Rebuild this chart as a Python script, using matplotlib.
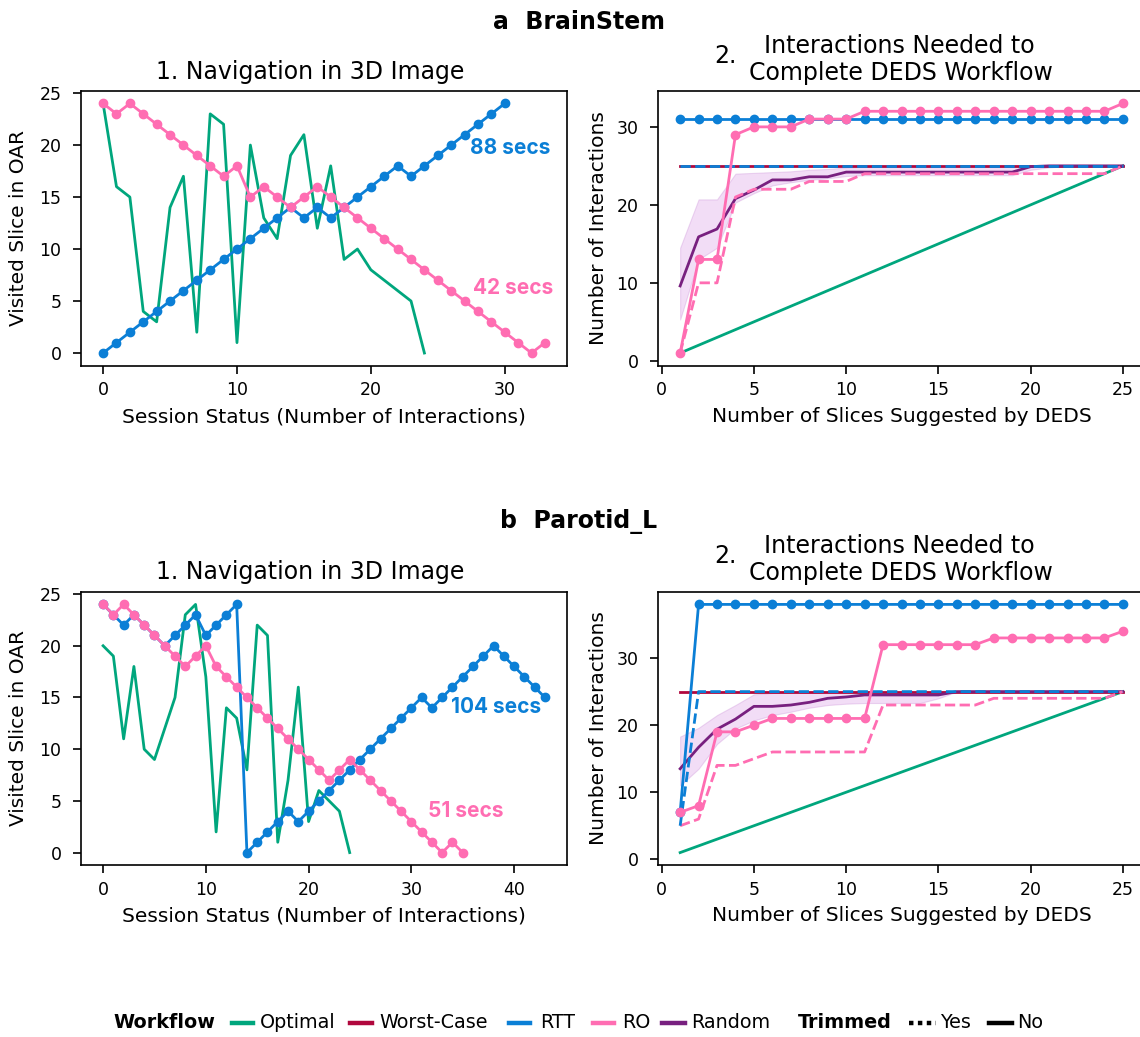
import matplotlib
matplotlib.use("Agg")
import matplotlib.pyplot as plt
from matplotlib.lines import Line2D

# ---------------- data ----------------
nav_a_optimal = [24, 16, 15, 4, 3, 14, 17, 2, 23, 22, 1, 20, 13, 11, 19, 21, 12, 18, 9, 10, 8, 7, 6, 5, 0]
nav_a_rtt = [0, 1, 2, 3, 4, 5, 6, 7, 8, 9, 10, 11, 12, 13, 14, 13, 14, 13, 14, 15, 16, 17, 18, 17, 18,
             19, 20, 21, 22, 23, 24]
nav_a_ro = [24, 23, 24, 23, 22, 21, 20, 19, 18, 17, 18, 15, 16, 15, 14, 15, 16, 15, 14, 13, 12, 11, 10,
            9, 8, 7, 6, 5, 4, 3, 2, 1, 0, 1]

nav_b_optimal = [20, 19, 11, 18, 10, 9, 12, 15, 23, 24, 17, 2, 14, 13, 8, 22, 21, 1, 7, 16, 3, 6, 5, 4, 0]
nav_b_rtt = [24, 23, 22, 23, 22, 21, 20, 21, 22, 23, 21, 22, 23, 24, 0, 1, 2, 3, 4, 3, 4, 5, 6, 7, 8, 9,
             10, 11, 12, 13, 14, 15, 14, 15, 16, 17, 18, 19, 20, 19, 18, 17, 16, 15]
nav_b_ro = [24, 23, 24, 23, 22, 21, 20, 19, 18, 19, 20, 18, 17, 16, 15, 14, 13, 12, 11, 10, 9, 8, 7, 8,
            9, 8, 7, 6, 5, 4, 3, 2, 1, 0, 1, 0]

slices = [1, 2, 3, 4, 5, 6, 7, 8, 9, 10, 11, 12, 13, 14, 15, 16, 17, 18, 19, 20, 21, 22, 23, 24, 25]
optimal = [1, 2, 3, 4, 5, 6, 7, 8, 9, 10, 11, 12, 13, 14, 15, 16, 17, 18, 19, 20, 21, 22, 23, 24, 25]
worst = [25, 25, 25, 25, 25, 25, 25, 25, 25, 25, 25, 25, 25, 25, 25, 25, 25, 25, 25, 25, 25, 25, 25, 25, 25]

a_rtt = [31, 31, 31, 31, 31, 31, 31, 31, 31, 31, 31, 31, 31, 31, 31, 31, 31, 31, 31, 31, 31, 31, 31, 31, 31]
a_rtt_trim = [25, 25, 25, 25, 25, 25, 25, 25, 25, 25, 25, 25, 25, 25, 25, 25, 25, 25, 25, 25, 25, 25, 25, 25, 25]
a_ro = [1, 13, 13, 29, 30, 30, 30, 31, 31, 31, 32, 32, 32, 32, 32, 32, 32, 32, 32, 32, 32, 32, 32, 32, 33]
a_ro_trim = [1, 10, 10, 21, 22, 22, 22, 23, 23, 23, 24, 24, 24, 24, 24, 24, 24, 24, 24, 24, 24, 24, 24, 24, 25]
a_rand = [9.6, 15.9, 16.9, 20.8, 21.9, 23.2, 23.2, 23.6, 23.6, 24.2, 24.2, 24.2, 24.2, 24.2, 24.2, 24.2,
          24.2, 24.2, 24.2, 24.9, 25, 25, 25, 25, 25]
a_rand_lo = [5.3, 13.0, 14.5, 20.3, 21.5, 22.5, 22.9, 23.2, 23.4, 23.7, 23.8, 23.8, 23.8, 23.8, 23.8, 23.8,
             23.8, 23.8, 23.8, 24.5, 24.8, 25, 25, 25, 25]
a_rand_hi = [14.5, 20.7, 20.7, 24.0, 24.1, 24.2, 24.3, 24.5, 24.6, 24.8, 24.9, 24.9, 24.9, 24.9, 24.9, 24.9,
             24.9, 24.9, 24.9, 25, 25, 25, 25, 25, 25]

b_rtt = [7, 38, 38, 38, 38, 38, 38, 38, 38, 38, 38, 38, 38, 38, 38, 38, 38, 38, 38, 38, 38, 38, 38, 38, 38]
b_rtt_trim = [5, 25, 25, 25, 25, 25, 25, 25, 25, 25, 25, 25, 25, 25, 25, 25, 25, 25, 25, 25, 25, 25, 25, 25, 25]
b_ro = [7, 8, 19, 19, 20, 21, 21, 21, 21, 21, 21, 32, 32, 32, 32, 32, 32, 33, 33, 33, 33, 33, 33, 33, 34]
b_ro_trim = [5, 6, 14, 14, 15, 16, 16, 16, 16, 16, 16, 23, 23, 23, 23, 23, 23, 24, 24, 24, 24, 24, 24, 24, 25]
b_rand = [13.5, 16.7, 19.4, 20.9, 22.8, 22.8, 23.0, 23.4, 24.0, 24.2, 24.5, 24.5, 24.5, 24.5, 24.5, 25,
          25, 25, 25, 25, 25, 25, 25, 25, 25]
b_rand_lo = [11.0, 13.5, 17.2, 19.5, 20.7, 21.5, 22.0, 22.6, 23.0, 23.2, 23.3, 23.3, 23.3, 23.3, 24.0, 25,
             25, 25, 25, 25, 25, 25, 25, 25, 25]
b_rand_hi = [18.3, 19.6, 21.5, 23.0, 24.6, 24.8, 24.9, 24.9, 25, 25, 25, 25, 25, 25, 25, 25,
             25, 25, 25, 25, 25, 25, 25, 25, 25]

workflows = ["Optimal", "Worst-Case", "RTT", "RO", "Random"]
colors = {"Optimal": "#00a67d", "Worst-Case": "#b0073d", "RTT": "#0b7fd6",
          "RO": "#ff6db2", "Random": "#78207f"}

# ---------------- figure ----------------
plt.rcParams["font.family"] = "DejaVu Sans"
plt.rcParams["font.size"] = 12
ANN = ["Inter", "DejaVu Sans"]

W, H = 1140, 1037
fig = plt.figure(figsize=(W / 100, H / 100), dpi=100)


def ax_at(left, top, right, bottom):
    return fig.add_axes([left / W, 1 - bottom / H, (right - left) / W, (bottom - top) / H])


LW = 2.0
MS = 6.0


def style(ax, ylab_x):
    for s in ax.spines.values():
        s.set_linewidth(1.2)
    ax.tick_params(axis="both", labelsize=12.5, width=1.2, length=6)
    ax.tick_params(axis="x", pad=5.5)
    ax.tick_params(axis="y", pad=8)
    ax.xaxis.set_label_coords(0.5, -0.152)
    ax.yaxis.set_label_coords(ylab_x, 0.5)


def nav_panel(ax, opt, rtt, ro, xticks):
    ax.plot(range(len(opt)), opt, color=colors["Optimal"], lw=LW)
    ax.plot(range(len(rtt)), rtt, color=colors["RTT"], lw=LW, marker="o", ms=MS)
    ax.plot(range(len(ro)), ro, color=colors["RO"], lw=LW, marker="o", ms=MS)
    ax.set_xticks(xticks)
    ax.set_yticks([0, 5, 10, 15, 20, 25])
    ax.set_xlabel("Session Status (Number of Interactions)", fontsize=14.5, va="top")
    ax.set_ylabel("Visited Slice in OAR", fontsize=14.5)
    style(ax, -0.109)


def inter_panel(ax, rtt, rtt_t, ro, ro_t, rnd, lo, hi):
    ax.plot(slices, optimal, color=colors["Optimal"], lw=LW)
    ax.fill_between(slices, lo, hi, facecolor="#d68fe2", alpha=0.3,
                    edgecolor="#c585d4", linewidth=0.8)
    ax.plot(slices, worst, color=colors["Worst-Case"], lw=LW)
    ax.plot(slices, rnd, color=colors["Random"], lw=LW)
    ax.plot(slices, ro_t, color=colors["RO"], lw=LW, ls="--")
    ax.plot(slices, rtt_t, color=colors["RTT"], lw=LW, ls="--")
    ax.plot(slices, rtt, color=colors["RTT"], lw=LW, marker="o", ms=MS)
    ax.plot(slices, ro, color=colors["RO"], lw=LW, marker="o", ms=MS)
    ax.set_xticks([0, 5, 10, 15, 20, 25])
    ax.set_yticks([0, 10, 20, 30])
    ax.set_xlabel("Number of Slices Suggested by DEDS", fontsize=14.5, va="top")
    ax.set_ylabel("Number of Interactions", fontsize=14.5)
    style(ax, -0.1027)


a1 = ax_at(81, 91, 567, 365.5)
a2 = ax_at(658, 91, 1145, 365.5)
b1 = ax_at(81, 592, 567, 865)
b2 = ax_at(658, 592, 1145, 865)

nav_panel(a1, nav_a_optimal, nav_a_rtt, nav_a_ro, [0, 10, 20, 30])
nav_panel(b1, nav_b_optimal, nav_b_rtt, nav_b_ro, [0, 10, 20, 30, 40])
inter_panel(a2, a_rtt, a_rtt_trim, a_ro, a_ro_trim, a_rand, a_rand_lo, a_rand_hi)
inter_panel(b2, b_rtt, b_rtt_trim, b_ro, b_ro_trim, b_rand, b_rand_lo, b_rand_hi)

# annotations
ann_kw = dict(fontsize=15, fontweight="bold", family=ANN, ha="left", va="center")
a1.text(27.4, 19.7, "88 secs", color=colors["RTT"], **ann_kw)
a1.text(27.6, 6.3, "42 secs", color=colors["RO"], **ann_kw)
b1.text(33.85, 14.05, "104 secs", color=colors["RTT"], **ann_kw)
b1.text(31.6, 4.0, "51 secs", color=colors["RO"], **ann_kw)


def px(x, y):
    return x / W, 1 - y / H


# headers and titles
for (hdr, y0) in [("a  BrainStem", 22), ("b  Parotid_L", 522)]:
    fig.text(*px(579, y0), hdr, fontsize=17, fontweight="bold", ha="center", va="center")
    t = y0 - 22
    fig.text(*px(310, t + 72), "1. Navigation in 3D Image", fontsize=17, ha="center", va="center")
    fig.text(*px(725, t + 56), "2.", fontsize=17, ha="center", va="center")
    fig.text(*px(899, t + 46), "Interactions Needed to", fontsize=17, ha="center", va="center")
    fig.text(*px(901, t + 73), "Complete DEDS Workflow", fontsize=17, ha="center", va="center")

# legend (drawn manually in figure pixels)
LY = 1023
LFS = 13.8
fig.text(*px(113, LY), "Workflow", fontsize=LFS, fontweight="bold", ha="left", va="center")
leg_items = [("Optimal", 232, 253, 260), ("Worst-Case", 350, 372, 379), ("RTT", 509, 530, 540),
             ("RO", 593, 614, 622), ("Random", 662, 685, 691)]
for name, h0, h1, tx in leg_items:
    x0, y = px(h0, LY)
    x1, _ = px(h1, LY)
    fig.add_artist(Line2D([x0, x1], [y, y], color=colors[name], lw=3.2, transform=fig.transFigure))
    fig.text(*px(tx, LY), name, fontsize=LFS, ha="left", va="center")
fig.text(*px(798, LY), "Trimmed", fontsize=LFS, fontweight="bold", ha="left", va="center")
trim_items = [("Yes", 909, 936, 940, (0, (1.0, 1.0))), ("No", 989, 1012, 1017, "-")]
for name, h0, h1, tx, ls in trim_items:
    x0, y = px(h0, LY)
    x1, _ = px(h1, LY)
    fig.add_artist(Line2D([x0, x1], [y, y], color="black", lw=3.2, ls=ls, transform=fig.transFigure))
    fig.text(*px(tx, LY), name, fontsize=LFS, ha="left", va="center")

fig.savefig("out.png", dpi=100)
